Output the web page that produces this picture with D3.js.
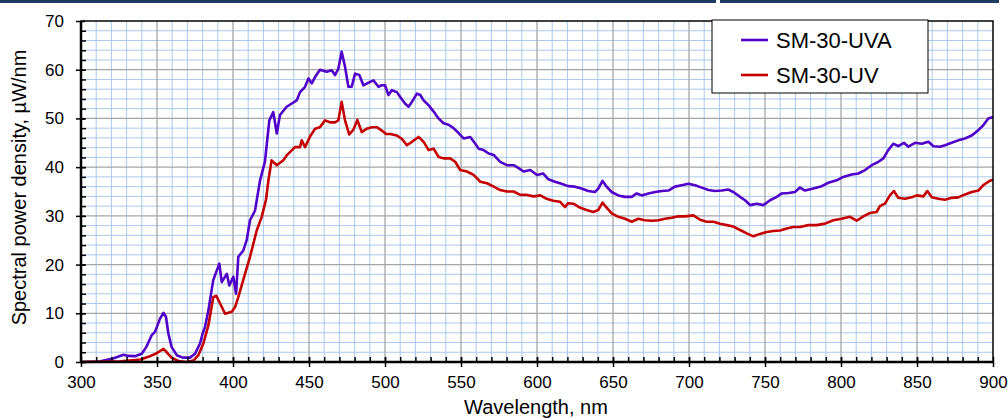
<!DOCTYPE html>
<html lang="en">
<head>
  <meta charset="utf-8" />
  <title>Spectral power density</title>
  <style>
    body { margin: 0; background: #fff; }
    svg { display: block; font-family: Arial, "Liberation Sans", sans-serif; }
    .grid-minor line { stroke: #a9c9ef; stroke-width: 1; }
    .grid-major line { stroke: #a6a6a6; stroke-width: 1.3; }
    .axis path { display: none; }
    .axis line { stroke: #000; stroke-width: 1.5; }
    .axis text { font-size: 17px; fill: #000; }
  </style>
  <script src="https://d3js.org/d3.v7.min.js"></script>
</head>
<body>
<script>

// values (wavelength nm, µW/nm)
const uva = [[300,0],[312,0.1],[321,0.7],[328,1.5],[331,1.25],[335.5,1.2],[340,1.7],[343,3.1],[346.5,5.5],[348.7,6.2],
  [352,8.9],[354.2,10.1],[355.9,9.3],[357.5,5.8],[359.6,3.1],[363,1.4],[367,0.9],[371.7,0.9],[375,1.7],[378.3,3.8],
  [380,5.8],[381.6,7.2],[383.8,10.6],[387,16.8],[391,20.2],[392.6,16.4],[395.9,18.1],[397.6,15.7],[400.2,17.5],[402,14.0],
  [403.5,21.6],[406.8,22.9],[409,25],[411.2,29.1],[414.5,31.1],[417.8,37.3],[421,41.1],[423.9,49.6],[426.5,51.3],[428.8,46.9],
  [430.9,50.7],[435.3,52.4],[441.9,53.7],[444.1,55.4],[447.4,56.5],[449.6,58.2],[451.8,57.2],[454,58.5],[457.2,60.0],[461.6,59.6],
  [464.9,59.9],[467.1,58.9],[469.3,60.2],[471.5,63.7],[473.7,60.6],[475.9,56.5],[478.1,56.5],[480.3,59.2],[483.1,58.9],[485.8,56.8],
  [490.2,57.5],[492.4,57.8],[495.7,56.5],[497.9,56.8],[500,56.8],[502.3,54.8],[504.5,55.8],[507.8,55.4],[510,54.4],[513.3,53.0],
  [515.5,52.4],[517.7,53.4],[521,55.1],[523.2,54.8],[525.4,53.7],[528.7,52.7],[532,51.4],[535.2,50.0],[538.5,49.0],[541.8,48.7],
  [545.1,48.0],[548.4,47.0],[551.7,45.9],[556.1,46.2],[559.4,44.8],[561.6,43.8],[564.9,43.5],[568.2,42.8],[571.5,42.5],[575.8,41.1],
  [580.2,40.4],[584.6,40.4],[587.9,39.8],[591.2,39.1],[595.6,39.4],[600,38.4],[604,38.7],[607.5,37.5],[611.8,37.0],[616.1,36.6],
  [620.5,36.1],[624.9,36.0],[629.3,35.6],[633.7,35.1],[638.1,34.9],[640.3,35.6],[643.1,37.2],[645.8,36.0],[649.1,34.9],[653.5,34.2],
  [657.9,33.9],[662.3,33.9],[665.6,34.6],[668.9,34.2],[673.3,34.6],[677.7,34.9],[682.1,35.1],[686.4,35.2],[690.8,36.0],[695.2,36.3],
  [699.6,36.6],[704,36.3],[708.4,35.8],[712.8,35.3],[717.1,35.1],[721.5,35.2],[725.9,35.4],[729.2,34.9],[733.6,33.9],[736.9,33.2],
  [740.2,32.2],[744.6,32.5],[749,32.2],[753.3,33.2],[757.7,33.9],[761,34.6],[765.4,34.7],[769.7,34.9],[773,35.8],[776.3,35.2],
  [781.8,35.6],[787.3,36.1],[791.7,36.8],[797.1,37.3],[801.5,38.0],[807,38.5],[811.4,38.7],[815.8,39.4],[820.2,40.4],[824.6,41.1],
  [827.9,41.8],[831.1,43.5],[834.4,44.8],[837.7,44.3],[841.4,45.0],[844.3,44.2],[848.7,45.0],[853.1,44.8],[857.5,45.2],[860.8,44.3],
  [865.2,44.2],[868.4,44.5],[872.8,45.0],[877.2,45.5],[881.6,45.9],[886,46.5],[890.4,47.6],[893.6,48.6],[896.9,50.0],[900,50.3]];

const uv = [[300,0],[326,0.15],[332,0.3],[339,0.5],[345.4,1.2],[349.8,1.8],[354.2,2.7],[356.4,2.0],[359.6,0.9],[364,0.2],
  [369.5,0.0],[373.9,0.3],[377.2,1.4],[380.5,3.8],[383.8,7.5],[387,13.3],[389,13.6],[394.8,9.9],[399.2,10.3],[401.4,11.3],
  [403.5,13.3],[407.9,18.1],[411.2,21.6],[415.6,27.0],[418.9,29.8],[421.7,33.3],[423.3,37.3],[425.4,41.4],[428.8,40.4],[433.1,41.4],
  [435.3,42.4],[440.8,44.1],[444.1,44.1],[445.2,45.5],[447.4,44.1],[450.7,46.3],[454,47.9],[457.2,48.2],[460.5,49.6],[463.8,49.2],
  [467.1,49.2],[469.3,49.6],[471.5,53.4],[473.7,49.6],[476.5,46.7],[479.2,47.7],[481.8,49.7],[484.7,47.2],[488,47.9],[491.3,48.2],
  [494.6,48.2],[497.9,47.5],[500.7,46.8],[503.4,46.8],[507.8,46.5],[511.1,45.8],[514.4,44.5],[517.7,45.2],[522.1,46.2],[525.4,45.2],
  [528.7,43.5],[532,43.8],[535.2,42.1],[538.5,41.8],[542.9,41.8],[546.2,41.1],[549.5,39.4],[553.9,39.1],[558.3,38.4],[562.7,37.0],
  [567.1,36.7],[571.5,36.0],[575.8,35.3],[580.2,35.0],[584.6,35.0],[589,34.3],[593.4,34.3],[597.8,34.0],[602.2,34.2],[606.3,33.5],
  [610.7,33.1],[615.1,32.9],[618.4,31.8],[620.5,32.6],[623.9,32.5],[628.2,31.7],[632.6,31.2],[637,30.8],[640.3,31.2],[643.1,32.7],
  [645.8,31.7],[649.1,30.5],[653.5,29.8],[657.9,29.4],[662.3,28.8],[666.6,29.4],[671,29.1],[675.4,29.0],[679.8,29.1],[684.2,29.4],
  [688.6,29.6],[693,29.9],[697.4,29.9],[702.9,30.1],[707.3,29.2],[711.7,28.8],[716.1,28.8],[720.4,28.4],[724.8,28.1],[729.2,27.8],
  [733.6,27.1],[738,26.4],[742.4,25.8],[746.8,26.3],[751.1,26.7],[755.5,26.9],[759.9,27.0],[764.3,27.4],[768.6,27.7],[773,27.7],
  [778.5,28.1],[784,28.1],[789.5,28.4],[794.9,29.1],[800.4,29.4],[805.9,29.8],[810.3,29.0],[814.7,29.9],[819.1,30.6],[823.5,30.8],
  [825.6,32.0],[828.9,32.5],[832.2,34.2],[834.8,35.1],[837.7,33.7],[842.1,33.5],[846.5,33.8],[849.8,34.2],[854.2,34.0],[856.8,35.1],
  [859.7,33.8],[864.1,33.5],[868.4,33.3],[872.8,33.7],[877.2,33.8],[881.6,34.4],[886,34.9],[890.4,35.2],[893.6,36.3],[898,37.2],[900,37.4]];

const seriesNames  = ["SM-30-UVA", "SM-30-UV"];
const seriesColors = ["#5100c9", "#c40000"];
const xTicks = [300, 350, 400, 450, 500, 550, 600, 650, 700, 750, 800, 850, 900];
const yTicks = [0, 10, 20, 30, 40, 50, 60, 70];

// dimensions
const W = 1008, H = 418;
const margin = {top: 21, right: 15, bottom: 56, left: 81},
    width = W - margin.left - margin.right,
    height = H - margin.top - margin.bottom;

const root = d3.select("body").append("svg")
    .attr("width", W)
    .attr("height", H);

// dark band along the top edge
root.append("rect").attr("x", 0).attr("y", 0).attr("width", 716).attr("height", 3).attr("fill", "#1f3a60");
root.append("rect").attr("x", 720).attr("y", 0).attr("width", 279).attr("height", 3).attr("fill", "#1f3a60");

const svg = root.append("g")
    .attr("transform", `translate(${margin.left}, ${margin.top})`);

const x = d3.scaleLinear().domain([300, 900]).range([0, width]);
const y = d3.scaleLinear().domain([0, 70]).range([height, 0]);

// grid: minor every 10 nm / 2 units, major every 50 nm / 10 units
svg.append("g").attr("class", "grid-minor")
  .selectAll("line.v").data(d3.range(310, 900, 10).filter(d => d % 50 !== 0))
  .join("line")
    .attr("x1", d => x(d)).attr("x2", d => x(d))
    .attr("y1", 0).attr("y2", height);
svg.append("g").attr("class", "grid-minor")
  .selectAll("line.h").data(d3.range(2, 70, 2).filter(d => d % 10 !== 0))
  .join("line")
    .attr("y1", d => y(d)).attr("y2", d => y(d))
    .attr("x1", 0).attr("x2", width);
svg.append("g").attr("class", "grid-major")
  .selectAll("line").data(xTicks.slice(1, -1))
  .join("line")
    .attr("x1", d => x(d)).attr("x2", d => x(d))
    .attr("y1", 0).attr("y2", height);
svg.append("g").attr("class", "grid-major")
  .selectAll("line").data(yTicks.slice(1, -1))
  .join("line")
    .attr("y1", d => y(d)).attr("y2", d => y(d))
    .attr("x1", 0).attr("x2", width);

// curves
const line = d3.line().x(d => x(d[0])).y(d => y(d[1]));
[uva, uv].forEach((s, i) => {
  svg.append("path")
    .datum(s)
    .attr("fill", "none")
    .attr("stroke", seriesColors[i])
    .attr("stroke-width", 2.6)
    .attr("stroke-linejoin", "round")
    .attr("d", line);
});

// frame (top / right thin, left / bottom heavy)
svg.append("rect").attr("x", 0).attr("y", 0).attr("width", width).attr("height", height)
  .attr("fill", "none").attr("stroke", "#000").attr("stroke-width", 1.5);
svg.append("line").attr("x1", 0).attr("x2", 0).attr("y1", 0).attr("y2", height)
  .attr("stroke", "#000").attr("stroke-width", 2.5);
svg.append("line").attr("x1", -1).attr("x2", width).attr("y1", height).attr("y2", height)
  .attr("stroke", "#000").attr("stroke-width", 2.5);

// minor ticks (inside)
svg.append("g").attr("class", "axis")
  .attr("transform", `translate(0, ${height})`)
  .call(d3.axisBottom(x).tickValues(d3.range(310, 900, 10)).tickSize(-5).tickFormat(""));
svg.append("g").attr("class", "axis")
  .call(d3.axisLeft(y).tickValues(d3.range(2, 70, 2)).tickSize(-5).tickFormat(""));

// major ticks + labels (cross the axis)
const xAxis = svg.append("g").attr("class", "axis")
  .attr("transform", `translate(0, ${height})`)
  .call(d3.axisBottom(x).tickValues(xTicks).tickSize(5).tickPadding(9));
xAxis.selectAll(".tick line").attr("y1", -5);
const yAxis = svg.append("g").attr("class", "axis")
  .call(d3.axisLeft(y).tickValues(yTicks).tickSize(5).tickPadding(12));
yAxis.selectAll(".tick line").attr("x1", 4);

// axis titles
root.append("text")
    .attr("x", margin.left + width / 2 - 1)
    .attr("y", 414)
    .attr("text-anchor", "middle")
    .style("font-size", "20px")
    .text("Wavelength, nm");
root.append("text")
    .attr("transform", `translate(26, ${margin.top + height / 2 - 4}) rotate(-90)`)
    .attr("text-anchor", "middle")
    .style("font-size", "20px")
    .text("Spectral power density, µW/nm");

// legend
const lg = root.append("g").attr("transform", "translate(712, 20)");
lg.append("rect").attr("width", 216).attr("height", 73)
  .attr("fill", "#fff").attr("stroke", "#000").attr("stroke-width", 1);
seriesNames.forEach((name, i) => {
  const yy = 20 + i * 35;
  lg.append("line").attr("x1", 29).attr("x2", 56).attr("y1", yy).attr("y2", yy)
    .attr("stroke", seriesColors[i]).attr("stroke-width", 2.6);
  lg.append("text").attr("x", 64).attr("y", yy + 8)
    .style("font-size", "22px").text(name);
});

</script>
</body>
</html>
